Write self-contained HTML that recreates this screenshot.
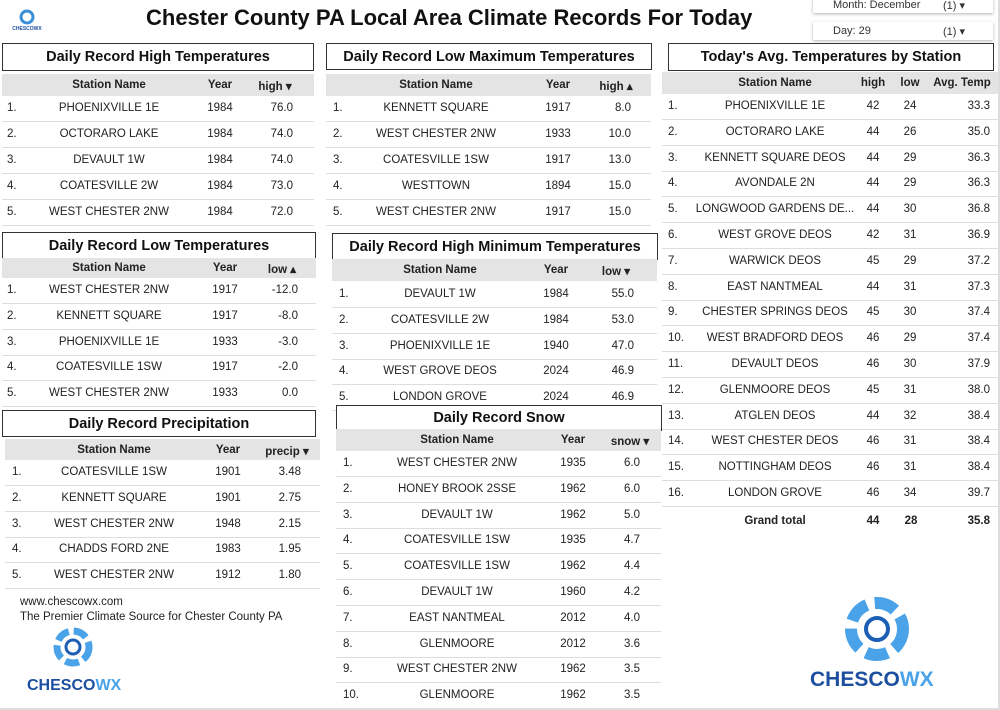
<!DOCTYPE html>
<html><head><meta charset="utf-8"><style>
body{margin:0;width:1000px;height:710px;background:#fff;position:relative;overflow:hidden;font-family:"Liberation Sans",sans-serif;color:#222}
.a{position:absolute}
.tb{position:absolute;border:1.5px solid #333;box-sizing:border-box;font-weight:bold;font-size:14.5px;text-align:center;color:#111;background:#fff}
.hd{position:absolute;background:#e4e4e4}
.t{position:absolute;font-size:11.5px;white-space:nowrap}
.ln{position:absolute;height:1px;background:#ddd}
.dd{position:absolute;background:#fff;box-shadow:0 1px 3px rgba(0,0,0,.3);font-size:11px;color:#333}
</style></head><body>
<div class="a" style="left:0;top:0;width:998px;height:708px;border-right:2px solid #ddd;border-bottom:2px solid #ddd"></div>
<div class="a" style="left:146px;top:5px;font-size:22px;font-weight:bold;color:#111">Chester County PA Local Area Climate Records For Today</div>
<svg class="a" style="left:12px;top:8px" width="30" height="24" viewBox="0 0 30 24"><circle cx="15" cy="9" r="6" fill="none" stroke="#3a8fd9" stroke-width="3"/><text x="15" y="22" font-size="5" text-anchor="middle" fill="#1d4fa0" font-family="Liberation Sans" font-weight="bold">CHESCOWX</text></svg>
<div class="dd" style="left:813px;top:-4px;width:180px;height:17px"><span class="a" style="left:20px;top:3px">Month: December</span><span class="a" style="left:130px;top:3px">(1) &#9662;</span></div>
<div class="dd" style="left:813px;top:22px;width:180px;height:18px"><span class="a" style="left:20px;top:3px">Day: 29</span><span class="a" style="left:130px;top:3px">(1) &#9662;</span></div>
<div class="a" style="left:20px;top:595px;font-size:11.5px;line-height:15px">www.chescowx.com<br>The Premier Climate Source for Chester County PA</div>
<svg class="a" style="left:45px;top:625px" width="60" height="50" viewBox="0 0 60 50"><circle cx="28" cy="22" r="16" fill="none" stroke="#4aa3e8" stroke-width="7" stroke-dasharray="14 5"/><circle cx="28" cy="22" r="7" fill="none" stroke="#1d5fb5" stroke-width="3"/></svg>
<div class="a" style="left:27px;top:677px;font-size:16px;font-weight:bold;color:#1d4fa0">CHESCO<span style="color:#4aa3e8">WX</span></div>
<svg class="a" style="left:835px;top:592px" width="85" height="75" viewBox="0 0 85 75"><circle cx="42" cy="37" r="26" fill="none" stroke="#4aa3e8" stroke-width="12" stroke-dasharray="22 8"/><circle cx="42" cy="37" r="11" fill="none" stroke="#1d5fb5" stroke-width="4"/></svg>
<div class="a" style="left:810px;top:668px;font-size:21px;font-weight:bold;color:#1d4fa0">CHESCO<span style="color:#4aa3e8">WX</span></div>
<div id="c"></div>
<script>
var c=document.getElementById('c'),h='';
function T(x,y,w,hh,s){h+='<div class="tb" style="left:'+x+'px;top:'+y+'px;width:'+w+'px;height:'+hh+'px;line-height:'+(hh-1)+'px">'+s+'</div>';}
function tx(x,y,s,al,b){var st='top:'+(y-6)+'px;';if(al=='c')st+='left:'+(x-100)+'px;width:200px;text-align:center;';else if(al=='r')st+='left:'+(x-100)+'px;width:100px;text-align:right;';else st+='left:'+x+'px;';if(b)st+='font-weight:bold;';h+='<div class="t" style="'+st+'">'+s+'</div>';}
function tab(x0,x1,hy,hh,cols,hdr,rows,ys){h+='<div class="hd" style="left:'+x0+'px;top:'+hy+'px;width:'+(x1-x0)+'px;height:'+hh+'px"></div>';
 var my=hy+hh/2;for(var i=0;i<hdr.length;i++)tx(cols[i+1][0],my,hdr[i],'c',1);
 for(var r=0;r<rows.length;r++){var y=ys[r];tx(cols[0],y,(r+1)+'.','l');
  for(var j=0;j<rows[r].length;j++)tx(cols[j+1][0]+(cols[j+1][1]=='r'?cols[j+1][2]:0),y,rows[r][j],cols[j+1][1]);
  var ly=(r<rows.length-1)?(ys[r]+ys[r+1])/2:y+13;h+='<div class="ln" style="left:'+x0+'px;top:'+Math.round(ly)+'px;width:'+(x1-x0)+'px"></div>';}}
function sp(a,n,d){var o=[];for(var i=0;i<n;i++)o.push(Math.round(a+i*d));return o;}
T(2,43,312,28,'Daily Record High Temperatures');
tab(2,314,74,22,[7,[109,'c'],[220,'c'],[275,'r',18]],['Station Name','Year','high &#9662;'],[['PHOENIXVILLE 1E','1984','76.0'],['OCTORARO LAKE','1984','74.0'],['DEVAULT 1W','1984','74.0'],['COATESVILLE 2W','1984','73.0'],['WEST CHESTER 2NW','1984','72.0']],sp(108,5,26));
T(2,232,314,27,'Daily Record Low Temperatures');
tab(2,316,258,20,[7,[109,'c'],[225,'c'],[282,'r',16]],['Station Name','Year','low &#9652;'],[['WEST CHESTER 2NW','1917','-12.0'],['KENNETT SQUARE','1917','-8.0'],['PHOENIXVILLE 1E','1933','-3.0'],['COATESVILLE 1SW','1917','-2.0'],['WEST CHESTER 2NW','1933','0.0']],sp(290,5,25.8));
T(2,410,314,27,'Daily Record Precipitation');
tab(5,320,439,21,[12,[114,'c'],[228,'c'],[287,'r',14]],['Station Name','Year','precip &#9662;'],[['COATESVILLE 1SW','1901','3.48'],['KENNETT SQUARE','1901','2.75'],['WEST CHESTER 2NW','1948','2.15'],['CHADDS FORD 2NE','1983','1.95'],['WEST CHESTER 2NW','1912','1.80']],sp(472,5,25.8));
T(326,43,326,27,'Daily Record Low Maximum Temperatures');
tab(326,651,74,22,[333,[436,'c'],[558,'c'],[616,'r',15]],['Station Name','Year','high &#9652;'],[['KENNETT SQUARE','1917','8.0'],['WEST CHESTER 2NW','1933','10.0'],['COATESVILLE 1SW','1917','13.0'],['WESTTOWN','1894','15.0'],['WEST CHESTER 2NW','1917','15.0']],sp(108,5,26));
T(332,233,326,27,'Daily Record High Minimum Temperatures');
tab(332,657,259,22,[339,[440,'c'],[556,'c'],[616,'r',18]],['Station Name','Year','low &#9662;'],[['DEVAULT 1W','1984','55.0'],['COATESVILLE 2W','1984','53.0'],['PHOENIXVILLE 1E','1940','47.0'],['WEST GROVE DEOS','2024','46.9'],['LONDON GROVE','2024','46.9']],sp(294,5,25.8));
T(336,405,326,26,'Daily Record Snow');
tab(336,661,429,22,[343,[457,'c'],[573,'c'],[630,'r',10]],['Station Name','Year','snow &#9662;'],[['WEST CHESTER 2NW','1935','6.0'],['HONEY BROOK 2SSE','1962','6.0'],['DEVAULT 1W','1962','5.0'],['COATESVILLE 1SW','1935','4.7'],['COATESVILLE 1SW','1962','4.4'],['DEVAULT 1W','1960','4.2'],['EAST NANTMEAL','2012','4.0'],['GLENMOORE','2012','3.6'],['WEST CHESTER 2NW','1962','3.5'],['GLENMOORE','1962','3.5']],sp(463,10,25.8));
T(668,43,326,28,"Today's Avg. Temperatures by Station");
var st=[['PHOENIXVILLE 1E',42,24,'33.3'],['OCTORARO LAKE',44,26,'35.0'],['KENNETT SQUARE DEOS',44,29,'36.3'],['AVONDALE 2N',44,29,'36.3'],['LONGWOOD GARDENS DE...',44,30,'36.8'],['WEST GROVE DEOS',42,31,'36.9'],['WARWICK DEOS',45,29,'37.2'],['EAST NANTMEAL',44,31,'37.3'],['CHESTER SPRINGS DEOS',45,30,'37.4'],['WEST BRADFORD DEOS',46,29,'37.4'],['DEVAULT DEOS',46,30,'37.9'],['GLENMOORE DEOS',45,31,'38.0'],['ATGLEN DEOS',44,32,'38.4'],['WEST CHESTER DEOS',46,31,'38.4'],['NOTTINGHAM DEOS',46,31,'38.4'],['LONDON GROVE',46,34,'39.7']];
tab(662,998,72,22,[668,[775,'c'],[873,'c'],[910,'c'],[962,'r',28]],['Station Name','high','low','Avg. Temp'],st,sp(106,16,25.8));
tx(775,521,'Grand total','c',1);tx(873,521,'44','c',1);tx(911,521,'28','c',1);tx(990,521,'35.8','r',1);
c.innerHTML=h;
</script>
</body></html>
